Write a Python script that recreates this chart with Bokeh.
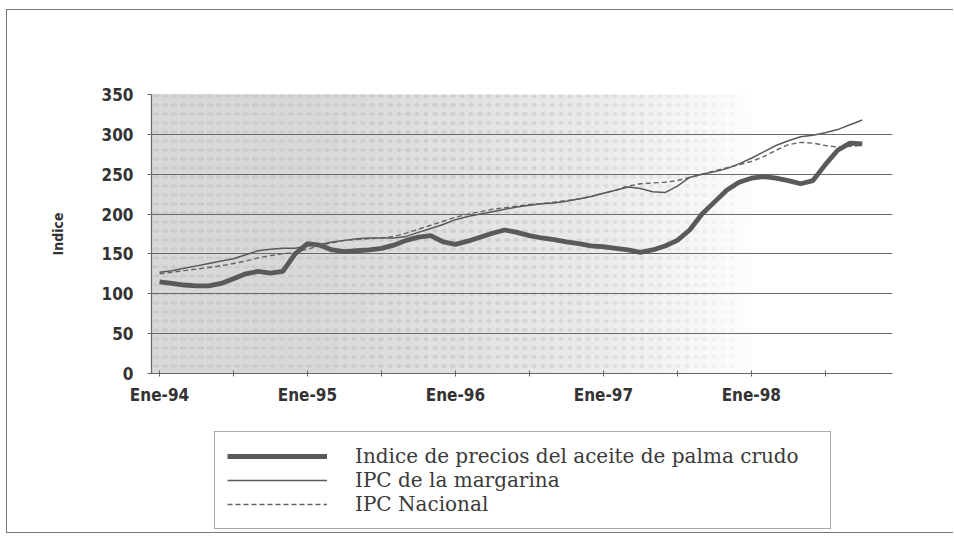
import numpy as np
from bokeh.plotting import figure
from bokeh.layouts import column
from bokeh.models import ColumnDataSource, FixedTicker, Legend, LegendItem, Range1d
from bokeh.embed import file_html
from bokeh.resources import INLINE

# ---- data (monthly, Ene-94 .. Oct-98) ----
months = list(range(58))
x_ticks = [0, 6, 12, 18, 24, 30, 36, 42, 48, 54]
x_tick_labels = {0: "Ene-94", 12: "Ene-95", 24: "Ene-96", 36: "Ene-97", 48: "Ene-98"}
y_ticks = [0, 50, 100, 150, 200, 250, 300, 350]

palma = [115, 113, 111, 110, 110, 113, 119, 125, 128, 126, 128, 150,
         163, 161, 155, 153, 154, 155, 157, 161, 167, 171, 173, 165,
         162, 166, 171, 176, 180, 177, 173, 170, 168, 165, 163, 160,
         159, 157, 155, 152, 155, 160, 167, 180, 200, 215, 230, 240,
         245, 247, 245, 242, 238, 242, 262, 280, 289, 288]
margarina = [127, 129, 132, 135, 138, 141, 144, 149, 154, 156, 157, 157,
             160, 162, 165, 167, 169, 170, 170, 170, 172, 177, 182, 187,
             193, 197, 200, 203, 206, 209, 211, 213, 214, 216, 219, 222,
             226, 230, 234, 232, 228, 227, 235, 246, 250, 253, 257, 263,
             270, 278, 286, 292, 297, 299, 302, 306, 312, 318]
ipc = [125, 127, 129, 131, 133, 135, 138, 141, 145, 148, 150, 152,
       156, 160, 164, 167, 168, 169, 170, 172, 176, 181, 186, 191,
       196, 200, 203, 206, 208, 210, 212, 213, 215, 217, 219, 222,
       226, 230, 235, 238, 239, 240, 242, 246, 250, 254, 258, 262,
       266, 272, 280, 287, 290, 289, 286, 284, 285, 286]

series_names = ["Indice de precios del aceite de palma crudo",
                "IPC de la margarina",
                "IPC Nacional"]

src = ColumnDataSource(dict(m=months, palma=palma, margarina=margarina, ipc=ipc))

STYLE_PAL = dict(line_color="#5a5a5a", line_width=4.8)
STYLE_MAR = dict(line_color="#5a5a5a", line_width=1.5)
STYLE_IPC = dict(line_color="#666666", line_width=1.4, line_dash="5 3")

XMIN, XMAX = -0.65, 59.45
p = figure(width=946, height=403, output_backend="svg", toolbar_location=None,
           x_range=Range1d(XMIN, XMAX), y_range=Range1d(0, 350),
           min_border_left=144, min_border_right=61, min_border_top=84,
           min_border_bottom=40)
p.outline_line_color = None
p.background_fill_color = "white"
p.border_fill_color = "white"

# gradient dotted background (stacked translucent bands fading to the right)
rights = np.linspace(XMIN, 48, 40)
bg = ColumnDataSource(dict(left=[XMIN] * len(rights), right=list(rights),
                           bottom=[0] * len(rights), top=[350] * len(rights)))
p.quad(left="left", right="right", bottom="bottom", top="top", source=bg,
       fill_color="#e0e0e0", fill_alpha=0.05, line_color=None,
       hatch_pattern="dot", hatch_color="#bdbdbd", hatch_alpha=0.05,
       hatch_scale=9, hatch_weight=2.5, level="image")

# grid / axes
p.xgrid.visible = False
p.ygrid.ticker = FixedTicker(ticks=y_ticks)
p.ygrid.grid_line_color = "#6a6a6a"
p.ygrid.grid_line_width = 1.2

ax_font = "DejaVu Sans Condensed, Liberation Sans Narrow, Roboto, sans-serif"
p.yaxis.ticker = FixedTicker(ticks=y_ticks)
p.yaxis.axis_label = "Indice"
p.yaxis.axis_label_text_font = ax_font
p.yaxis.axis_label_text_font_style = "bold"
p.yaxis.axis_label_text_font_size = "14px"
p.yaxis.axis_label_text_color = "#333333"
p.yaxis.axis_label_standoff = 33
p.yaxis.major_label_text_font = ax_font
p.yaxis.major_label_text_font_style = "bold"
p.yaxis.major_label_text_font_size = "17px"
p.yaxis.major_label_text_color = "#333333"
p.yaxis.major_label_standoff = 14
p.yaxis.major_tick_out = 4
p.yaxis.major_tick_in = 0
p.yaxis.minor_tick_line_color = None
p.yaxis.axis_line_color = "#666666"
p.yaxis.axis_line_width = 1.2
p.yaxis.major_tick_line_color = "#666666"

p.xaxis.ticker = FixedTicker(ticks=x_ticks)
p.xaxis.major_label_overrides = {t: x_tick_labels.get(t, "") for t in x_ticks}
p.xaxis.major_label_text_font = ax_font
p.xaxis.major_label_text_font_style = "bold"
p.xaxis.major_label_text_font_size = "17px"
p.xaxis.major_label_text_color = "#333333"
p.xaxis.major_label_standoff = 8
p.xaxis.major_tick_out = 3
p.xaxis.major_tick_in = 3
p.xaxis.minor_tick_line_color = None
p.xaxis.axis_line_color = "#666666"
p.xaxis.axis_line_width = 1.2
p.xaxis.major_tick_line_color = "#666666"

# series
p.line("m", "ipc", source=src, **STYLE_IPC)
p.line("m", "margarina", source=src, **STYLE_MAR)
p.line("m", "palma", source=src, **STYLE_PAL)

# ---- legend panel (second figure below the chart) ----
q = figure(width=946, height=119, output_backend="svg", toolbar_location=None,
           x_range=Range1d(-100, -99), y_range=Range1d(0, 1),
           x_axis_location=None, y_axis_location=None,
           min_border_left=0, min_border_right=0, min_border_top=0,
           min_border_bottom=0)
q.outline_line_color = None
q.xgrid.visible = False
q.ygrid.visible = False
q.background_fill_color = "white"
q.border_fill_color = "white"
l_ipc = q.line("m", "ipc", source=src, **STYLE_IPC)
l_mar = q.line("m", "margarina", source=src, **STYLE_MAR)
l_pal = q.line("m", "palma", source=src, **STYLE_PAL)

legend = Legend(items=[LegendItem(label=series_names[0], renderers=[l_pal]),
                       LegendItem(label=series_names[1], renderers=[l_mar]),
                       LegendItem(label=series_names[2], renderers=[l_ipc])],
                location=(63, 3), orientation="vertical")
legend.border_line_color = "#555555"
legend.border_line_width = 1.5
legend.background_fill_color = "white"
legend.background_fill_alpha = 1
legend.label_text_font = "DejaVu Serif"
legend.label_text_font_size = "20px"
legend.label_text_color = "#3a3a3a"
legend.glyph_width = 100
legend.glyph_height = 18
legend.label_standoff = 28
legend.padding = 12
legend.spacing = 0
legend.label_height = 21
legend.label_width = 463
legend.margin = 0
q.add_layout(legend)

root = column(p, q, spacing=0,
              styles={"margin-left": "6px", "margin-top": "9px",
                      "border-left": "1.5px solid #777", "border-top": "1.5px solid #777",
                      "border-bottom": "1.5px solid #777"})

open("out.html", "w").write(file_html(root, INLINE))
